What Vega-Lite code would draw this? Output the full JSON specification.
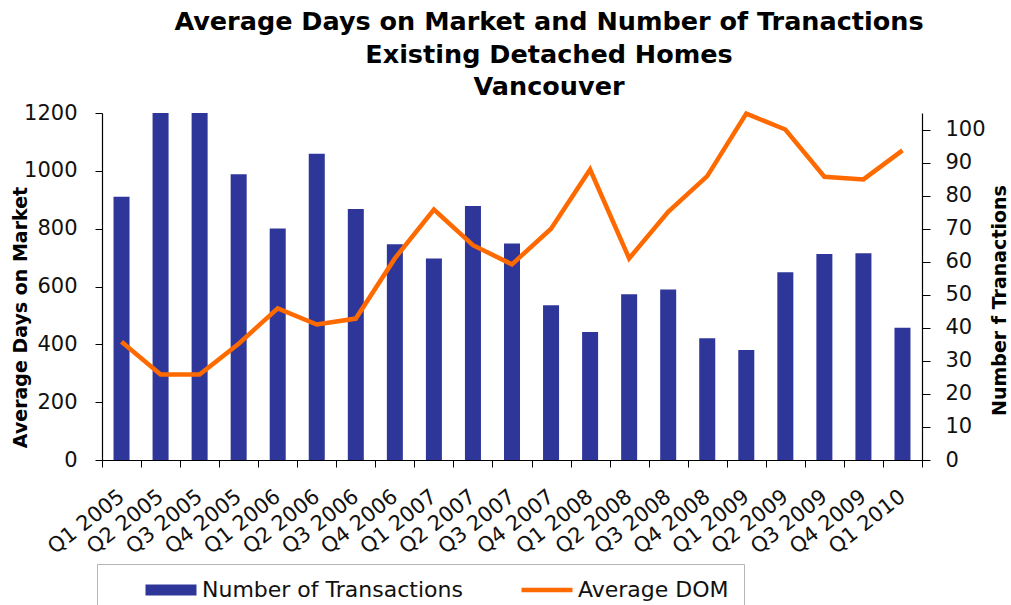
{
  "$schema": "https://vega.github.io/schema/vega-lite/v6.json",
  "width": 820,
  "height": 347,
  "autosize": {"type": "none"},
  "padding": {"left": 102, "top": 113, "right": 89, "bottom": 145},
  "background": "white",
  "config": {"view": {"stroke": null}, "font": "DejaVu Sans"},
  "title": {
    "text": ["Average Days on Market and Number of Tranactions", "Existing Detached Homes", "Vancouver"],
    "font": "DejaVu Sans",
    "fontSize": 25.5,
    "fontWeight": "bold",
    "color": "#000",
    "lineHeight": 32.7,
    "anchor": "middle",
    "frame": "group",
    "dx": 37,
    "offset": 1
  },
  "data": {
    "values": [
      {"q": "Q1 2005", "tx": 910, "dom": 35.8},
      {"q": "Q2 2005", "tx": 1200, "dom": 25.9},
      {"q": "Q3 2005", "tx": 1200, "dom": 25.9},
      {"q": "Q4 2005", "tx": 988, "dom": 35.2},
      {"q": "Q1 2006", "tx": 801, "dom": 45.9},
      {"q": "Q2 2006", "tx": 1059, "dom": 41.0},
      {"q": "Q3 2006", "tx": 868, "dom": 42.8},
      {"q": "Q4 2006", "tx": 746, "dom": 61.0},
      {"q": "Q1 2007", "tx": 697, "dom": 75.8},
      {"q": "Q2 2007", "tx": 878, "dom": 65.0},
      {"q": "Q3 2007", "tx": 749, "dom": 59.2},
      {"q": "Q4 2007", "tx": 535, "dom": 70.0},
      {"q": "Q1 2008", "tx": 443, "dom": 87.9},
      {"q": "Q2 2008", "tx": 573, "dom": 61.0},
      {"q": "Q3 2008", "tx": 590, "dom": 75.1},
      {"q": "Q4 2008", "tx": 421, "dom": 85.9},
      {"q": "Q1 2009", "tx": 380, "dom": 104.8},
      {"q": "Q2 2009", "tx": 649, "dom": 100.0},
      {"q": "Q3 2009", "tx": 712, "dom": 85.7},
      {"q": "Q4 2009", "tx": 715, "dom": 84.9},
      {"q": "Q1 2010", "tx": 457, "dom": 93.7}
    ]
  },
  "encoding": {
    "x": {
      "field": "q",
      "type": "ordinal",
      "sort": null,
      "scale": {"paddingInner": 0, "paddingOuter": 0},
      "axis": {
        "title": null,
        "labelAngle": -38,
        "labelAlign": "right",
        "labelBaseline": "middle",
        "labelFont": "DejaVu Sans",
        "labelFontSize": 21,
        "labelColor": "#111",
        "labelPadding": 27,
        "labelOverlap": false,
        "labelLimit": 0,
        "tickBand": "extent",
        "tickSize": 7,
        "tickColor": "#000",
        "tickWidth": 1,
        "domainColor": "#000",
        "domainWidth": 1.2,
        "encode": {"ticks": {"update": {"y": {"value": -7}}}}
      }
    }
  },
  "layer": [
    {
      "mark": {"type": "bar", "width": {"band": 0.41}},
      "encoding": {
        "y": {
          "field": "tx",
          "type": "quantitative",
          "scale": {"domain": [0, 1200], "nice": false, "zero": true},
          "axis": {
            "title": "Average Days on Market",
            "values": [0, 200, 400, 600, 800, 1000, 1200],
            "format": "d",
            "grid": false,
            "tickSize": 7,
            "tickColor": "#000",
            "domainColor": "#000",
            "domainWidth": 1.2,
            "labelPadding": 18,
            "labelFont": "DejaVu Sans",
            "labelFontSize": 21,
            "labelColor": "#111",
            "titleFont": "DejaVu Sans",
            "titleFontSize": 19,
            "titleFontWeight": "bold",
            "titleColor": "#000",
            "titleAngle": -90,
            "titleBaseline": "alphabetic",
            "titleX": -76,
            "titleY": 204,
            "encode": {"ticks": {"update": {"x": {"value": 8}}}}
          }
        },
        "color": {
          "datum": "Number of Transactions",
          "scale": {"domain": ["Number of Transactions", "Average DOM"], "range": ["#2F3699", "#FF6A00"]},
          "legend": {
            "orient": "none",
            "legendX": -5,
            "legendY": 451,
            "direction": "horizontal",
            "title": null,
            "strokeColor": "#b5b5b5",
            "padding": 15,
            "symbolOffset": 48,
            "symbolSize": 2601,
            "symbolStrokeWidth": 4.5,
            "labelFont": "DejaVu Sans",
            "labelFontSize": 22,
            "labelColor": "#111",
            "labelOffset": 20,
            "columnPadding": 25,
            "labelLimit": 0,
            "encode": {
              "symbols": {
                "update": {
                  "shape": {"signal": "datum.value === 'Average DOM' ? 'stroke' : 'M-1,-0.22H1V0.22H-1Z'"},
                  "fill": {"signal": "datum.value === 'Average DOM' ? 'transparent' : '#2F3699'"},
                  "stroke": {"signal": "datum.value === 'Average DOM' ? '#FF6A00' : 'transparent'"},
                  "strokeWidth": {"signal": "datum.value === 'Average DOM' ? 4.5 : 0"},
                  "opacity": {"value": 1}
                }
              }
            }
          }
        }
      }
    },
    {
      "mark": {"type": "line", "strokeWidth": 4.5, "strokeJoin": "miter"},
      "encoding": {
        "y": {
          "field": "dom",
          "type": "quantitative",
          "scale": {"domain": [0, 105], "nice": false, "zero": true},
          "axis": {
            "orient": "right",
            "title": "Number f Tranactions",
            "values": [0, 10, 20, 30, 40, 50, 60, 70, 80, 90, 100],
            "grid": false,
            "tickSize": 8,
            "tickColor": "#000",
            "domainColor": "#000",
            "domainWidth": 1.2,
            "labelPadding": 15,
            "labelFont": "DejaVu Sans",
            "labelFontSize": 21,
            "labelColor": "#111",
            "titleFont": "DejaVu Sans",
            "titleFontSize": 19,
            "titleFontWeight": "bold",
            "titleColor": "#000",
            "titleAngle": -90,
            "titleBaseline": "alphabetic",
            "titleX": 83,
            "titleY": 187,
            "encode": {"ticks": {"update": {"x": {"value": -7}}}}
          }
        },
        "color": {"datum": "Average DOM"}
      }
    }
  ],
  "resolve": {"scale": {"y": "independent"}}
}
